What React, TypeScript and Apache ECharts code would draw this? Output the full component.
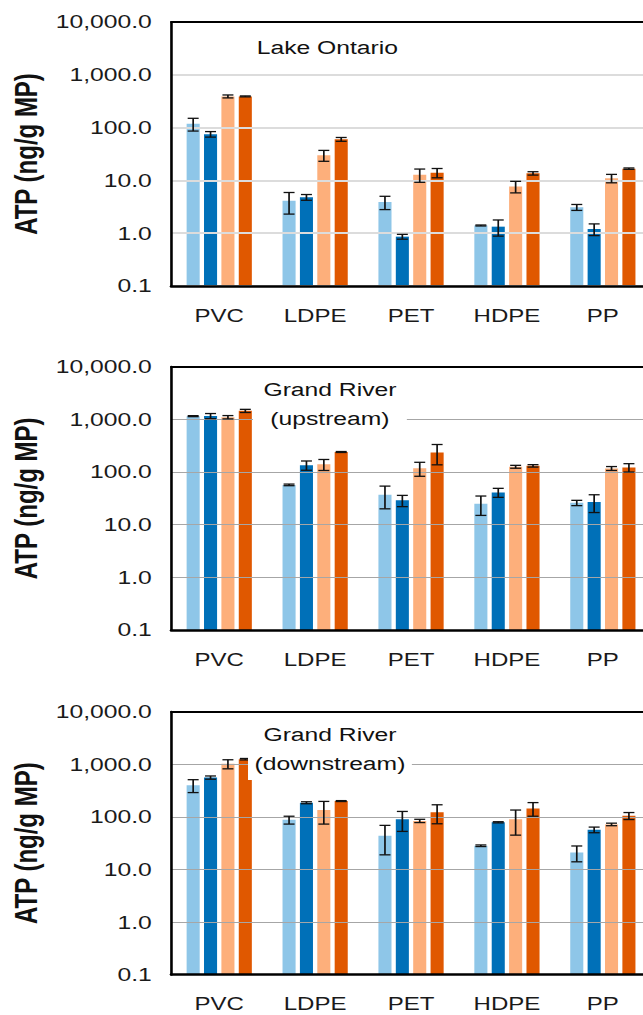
import React, { useEffect, useRef } from "react";
import * as echarts from "echarts";

// ---------- data ----------
const categories = ["PVC", "LDPE", "PET", "HDPE", "PP"];
const seriesNames = ["Series 1", "Series 2", "Series 3", "Series 4"];
const seriesColors = ["#8EC6E8", "#0070B8", "#FDAF7B", "#E05800"];
const tickValues = [0.1, 1, 10, 100, 1000, 10000];

// Lake Ontario
const lakeOntarioS1 = [118, 4.1, 3.9, 1.4, 3.1];
const lakeOntarioS2 = [75, 4.8, 0.86, 1.33, 1.2];
const lakeOntarioS3 = [390, 30, 12.8, 7.7, 11];
const lakeOntarioS4 = [390, 60, 14, 13.6, 16.7];
const lakeOntarioErr1 = [32, 1.8, 1.1, 0.03, 0.4];
const lakeOntarioErr2 = [9, 0.6, 0.09, 0.45, 0.3];
const lakeOntarioErr3 = [25, 7, 3.6, 1.9, 2];
const lakeOntarioErr4 = [8, 5, 2.8, 1, 0.5];

// Grand River (upstream)
const upstreamS1 = [1150, 57, 37, 25, 26];
const upstreamS2 = [1160, 135, 29, 41, 27];
const upstreamS3 = [1100, 140, 118, 126, 117];
const upstreamS4 = [1450, 240, 235, 131, 122];
const upstreamErr1 = [25, 2, 17, 10, 3];
const upstreamErr2 = [130, 27, 7, 8, 10];
const upstreamErr3 = [80, 33, 35, 8, 10];
const upstreamErr4 = [100, 5, 98, 7, 22];

// Grand River (downstream)
const downstreamS1 = [400, 88, 44, 28.3, 21];
const downstreamS2 = [560, 186, 90, 79, 57];
const downstreamS3 = [1020, 135, 84, 90, 72];
const downstreamS4 = [1250, 200, 122, 145, 105];
const downstreamErr1 = [110, 15, 25, 1, 7];
const downstreamErr2 = [40, 8, 37, 2, 7];
const downstreamErr3 = [200, 62, 6, 45, 4];
const downstreamErr4 = [40, 4, 48, 42, 16];

const panelTitles = ["Lake Ontario", "Grand River\n(upstream)", "Grand River\n(downstream)"];
const yAxisTitle = "ATP (ng/g MP)";

const panels = [
  { means: [lakeOntarioS1, lakeOntarioS2, lakeOntarioS3, lakeOntarioS4], errs: [lakeOntarioErr1, lakeOntarioErr2, lakeOntarioErr3, lakeOntarioErr4] },
  { means: [upstreamS1, upstreamS2, upstreamS3, upstreamS4], errs: [upstreamErr1, upstreamErr2, upstreamErr3, upstreamErr4] },
  { means: [downstreamS1, downstreamS2, downstreamS3, downstreamS4], errs: [downstreamErr1, downstreamErr2, downstreamErr3, downstreamErr4] },
];

// ---------- layout ----------
const SCALE_BASE_W = 495; // unstretched width that maps onto the 643px page
const INNER_W = 505; // chart canvas (slightly wider; the overflow is clipped)
const OUTER_W = 643;
const H = 1015;
const K = OUTER_W / SCALE_BASE_W;
const FONT = "Arial, 'Liberation Sans', sans-serif";
const CAT_GAP = 0.32;
const BAR_GAP = 0.33;

const gridTops = [22, 366.7, 711.7];
const gridHeights = [264, 263.3, 263];
const splitStyles = [
  { color: "#dcdcdc", width: 2 },
  { color: "#a6a6a6", width: 1 },
  { color: "#a6a6a6", width: 1 },
];
const titlePos = [
  { x: 252, y: 48, pad: 0 },
  { x: 254, y: 404, pad: 8 },
  { x: 254, y: 749, pad: 5 },
];

function fmt(v: number) {
  return Number(v).toLocaleString("en-US", { minimumFractionDigits: 1, maximumFractionDigits: 1 });
}

function errRenderer(sIdx: number) {
  return (params: any, api: any) => {
    const ci = api.value(0);
    const mean = api.value(1);
    const err = api.value(2);
    const top = api.coord([ci, mean + err]);
    const bot = api.coord([ci, Math.max(mean - err, 0.1)]);
    const band = api.size([1, 0], [ci, mean])[0];
    const groupW = band * (1 - CAT_GAP);
    const w = groupW / (4 + 3 * BAR_GAP);
    const step = w * (1 + BAR_GAP);
    const x = top[0] + (sIdx - 1.5) * step;
    const cap = w * 0.42;
    const style = { stroke: "#111", lineWidth: 1.3 };
    return {
      type: "group",
      children: [
        { type: "line", shape: { x1: x, y1: top[1], x2: x, y2: bot[1] }, style },
        { type: "line", shape: { x1: x - cap, y1: top[1], x2: x + cap, y2: top[1] }, style },
        { type: "line", shape: { x1: x - cap, y1: bot[1], x2: x + cap, y2: bot[1] }, style },
      ],
    };
  };
}

export default function App() {
  const ref = useRef<HTMLDivElement>(null);
  useEffect(() => {
    if (!ref.current) return;
    const chart = echarts.init(ref.current, undefined, { renderer: "svg" });

    const grid: any[] = [];
    const xAxis: any[] = [];
    const yAxis: any[] = [];
    const series: any[] = [];
    const graphic: any[] = [];

    panels.forEach((p, pi) => {
      grid.push({
        left: 127,
        top: gridTops[pi],
        width: 374,
        height: gridHeights[pi],
        show: false,
      });
      xAxis.push({
        type: "category",
        gridIndex: pi,
        data: categories,
        position: "bottom",
        axisLine: { show: true, lineStyle: { color: "#000", width: 2.5 } },
        axisTick: { show: false },
        axisLabel: { color: "#1a1a1a", fontSize: 18.5, fontFamily: FONT, margin: 20 },
        splitLine: { show: false },
        z: 4,
      });
      yAxis.push({
        type: "log",
        gridIndex: pi,
        logBase: 10,
        min: tickValues[0],
        max: tickValues[tickValues.length - 1],
        startValue: tickValues[0],
        splitNumber: 5,
        name: yAxisTitle,
        nameLocation: "middle",
        nameGap: 90,
        nameTextStyle: { fontSize: 24, fontWeight: "bold", color: "#111", fontFamily: FONT },
        axisLine: { show: true, lineStyle: { color: "#000", width: 2 } },
        axisTick: { show: false },
        axisLabel: { color: "#1a1a1a", fontSize: 19, fontFamily: FONT, margin: 15, formatter: fmt },
        splitLine: { show: true, lineStyle: splitStyles[pi] },
        z: 4,
      });
      p.means.forEach((vals, si) => {
        series.push({
          type: "bar",
          name: seriesNames[si],
          xAxisIndex: pi,
          yAxisIndex: pi,
          data: vals,
          barGap: `${BAR_GAP * 100}%`,
          barCategoryGap: `${CAT_GAP * 100}%`,
          itemStyle: { color: seriesColors[si] },
          z: 2,
        });
      });
      p.means.forEach((vals, si) => {
        series.push({
          type: "custom",
          name: seriesNames[si] + " error",
          xAxisIndex: pi,
          yAxisIndex: pi,
          data: vals.map((v, ci) => [ci, v, p.errs[si][ci]]),
          encode: { x: 0, y: 1 },
          renderItem: errRenderer(si),
          z: 5,
        });
      });
      graphic.push({
        type: "text",
        x: titlePos[pi].x,
        y: titlePos[pi].y,
        z: 10,
        style: {
          text: panelTitles[pi],
          fill: "#111",
          font: `19px ${FONT}`,
          align: "center",
          verticalAlign: "middle",
          lineHeight: 29,
          backgroundColor: pi === 0 ? "transparent" : "#fff",
          padding: [2, titlePos[pi].pad],
        },
      });
    });

    // top frame lines of each plot (secondary category axes at the top)
    panels.forEach((p, pi) => {
      xAxis.push({
        type: "category",
        gridIndex: pi,
        data: categories,
        position: "top",
        axisLine: { show: true, lineStyle: { color: "#000", width: 2 } },
        axisTick: { show: false },
        axisLabel: { show: false },
        splitLine: { show: false },
        z: 4,
      });
    });

    chart.setOption({
      animation: false,
      backgroundColor: "#fff",
      textStyle: { fontFamily: FONT },
      grid,
      xAxis,
      yAxis,
      series,
      graphic,
    });
    return () => chart.dispose();
  }, []);

  return (
    <div style={{ position: "absolute", left: 0, top: 0, width: OUTER_W, height: H, overflow: "hidden", background: "#fff" }}>
      <div
        ref={ref}
        style={{ width: INNER_W, height: H, transform: `scaleX(${K})`, transformOrigin: "0 0" }}
      />
    </div>
  );
}
